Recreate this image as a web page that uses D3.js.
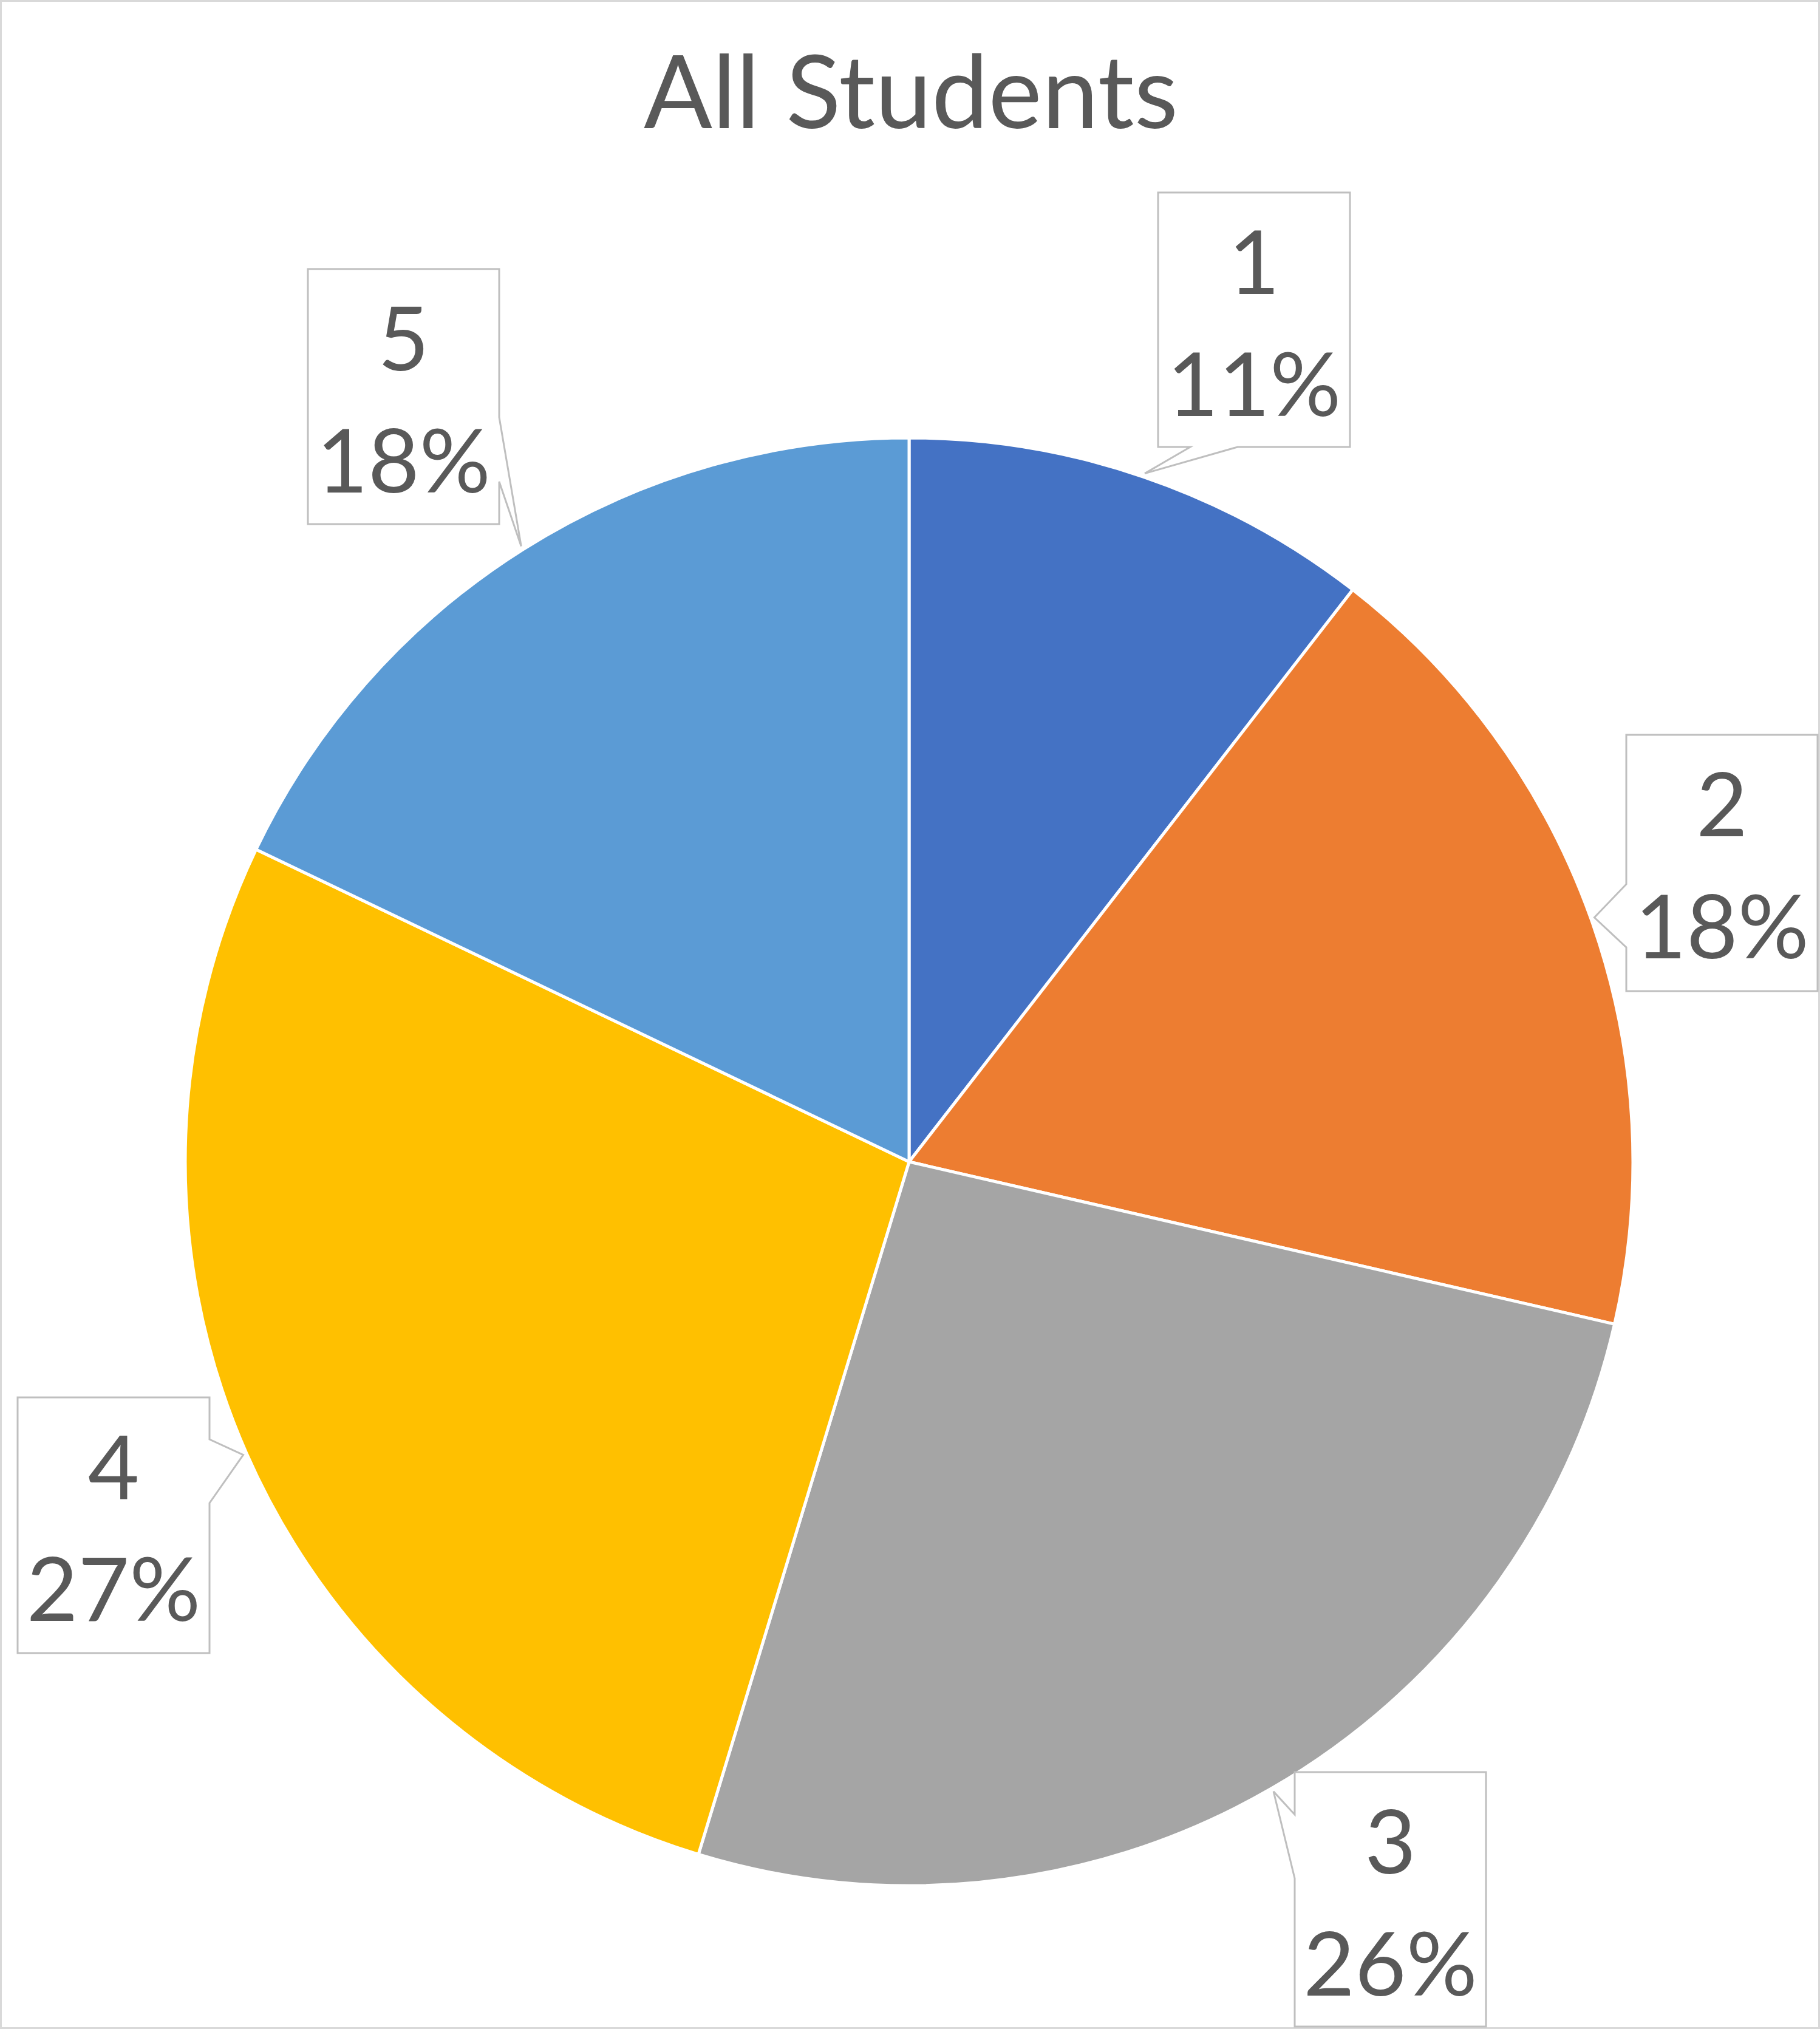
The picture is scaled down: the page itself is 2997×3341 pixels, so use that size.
<!DOCTYPE html>
<html>
<head>
<meta charset="utf-8">
<script src="https://cdn.jsdelivr.net/npm/d3@7"></script>
<style>
  html, body { margin: 0; padding: 0; background: #fff; }
  svg { display: block; }
</style>
</head>
<body>
<script>
// ---- data ----
const chartTitle = "All Students";
const categories = ["1", "2", "3", "4", "5"];
const values = [10.5, 18.1, 26.1, 27.4, 17.9];
const colors = ["#4472C4", "#ED7D31", "#A5A5A5", "#FFC000", "#5B9BD5"];

// ---- layout (label callout boxes) ----
const W = 2997, H = 3341;
const cx = 1497, cy = 1913, r = 1192;
const boxes = [
  { x: 1907, y: 317,  w: 316, h: 419, side: "bottom", b: [1960, 2038] },
  { x: 2678, y: 1210, w: 315, h: 422, side: "left",   b: [1456, 1560] },
  { x: 2132, y: 2918, w: 315, h: 419, side: "left",   b: [2988, 3093] },
  { x: 29,   y: 2301, w: 316, h: 421, side: "right",  b: [2370, 2475] },
  { x: 507,  y: 443,  w: 315, h: 420, side: "right",  b: [687, 793] }
];

const svg = d3.select("body").append("svg")
  .attr("width", W).attr("height", H);

svg.append("rect")
  .attr("x", 1.5).attr("y", 1.5)
  .attr("width", W - 3).attr("height", H - 3)
  .attr("fill", "#fff").attr("stroke", "#D9D9D9").attr("stroke-width", 3);

svg.append("text")
  .attr("x", 1500).attr("y", 211)
  .attr("text-anchor", "middle")
  .attr("font-family", "Lato, 'Open Sans', sans-serif")
  .attr("font-size", 167)
  .attr("fill", "#595959")
  .text(chartTitle);

const total = d3.sum(values);
const pie = d3.pie().sort(null).value(d => d)(values);
const arc = d3.arc().innerRadius(0).outerRadius(r);
const color = d3.scaleOrdinal().domain(categories).range(colors);

const g = svg.append("g").attr("transform", `translate(${cx},${cy})`);
g.selectAll("path.slice").data(pie).join("path")
  .attr("class", "slice")
  .attr("d", arc)
  .attr("fill", (d, i) => color(categories[i]))
  .attr("stroke", "#fff").attr("stroke-width", 5).attr("stroke-linejoin", "round");

// callouts
pie.forEach((d, i) => {
  const bx = boxes[i];
  const mid = (d.startAngle + d.endAngle) / 2;
  const R = r + 6;
  const tx = cx + R * Math.sin(mid), ty = cy - R * Math.cos(mid);
  const { x, y, w, h } = bx;
  const [b1, b2] = bx.b;
  let p;
  if (bx.side === "bottom") {
    p = [[x, y], [x + w, y], [x + w, y + h], [b2, y + h], [tx, ty], [b1, y + h], [x, y + h]];
  } else if (bx.side === "left") {
    p = [[x, y], [x + w, y], [x + w, y + h], [x, y + h], [x, b2], [tx, ty], [x, b1]];
  } else {
    p = [[x, y], [x + w, y], [x + w, b1], [tx, ty], [x + w, b2], [x + w, y + h], [x, y + h]];
  }
  svg.append("path")
    .attr("d", "M" + p.map(q => q.join(",")).join("L") + "Z")
    .attr("fill", "#fff").attr("stroke", "#BFBFBF").attr("stroke-width", 3)
    .attr("stroke-linejoin", "miter");

  const t = svg.append("text")
    .attr("text-anchor", "middle")
    .attr("font-family", "Lato, 'Open Sans', sans-serif")
    .attr("font-size", 146)
    .attr("fill", "#595959");
  t.append("tspan").attr("x", x + w / 2).attr("y", y + 167).text(categories[i]);
  t.append("tspan").attr("x", x + w / 2).attr("y", y + 368)
    .text(Math.round(d.data / total * 100) + "%");
});
</script>
</body>
</html>
